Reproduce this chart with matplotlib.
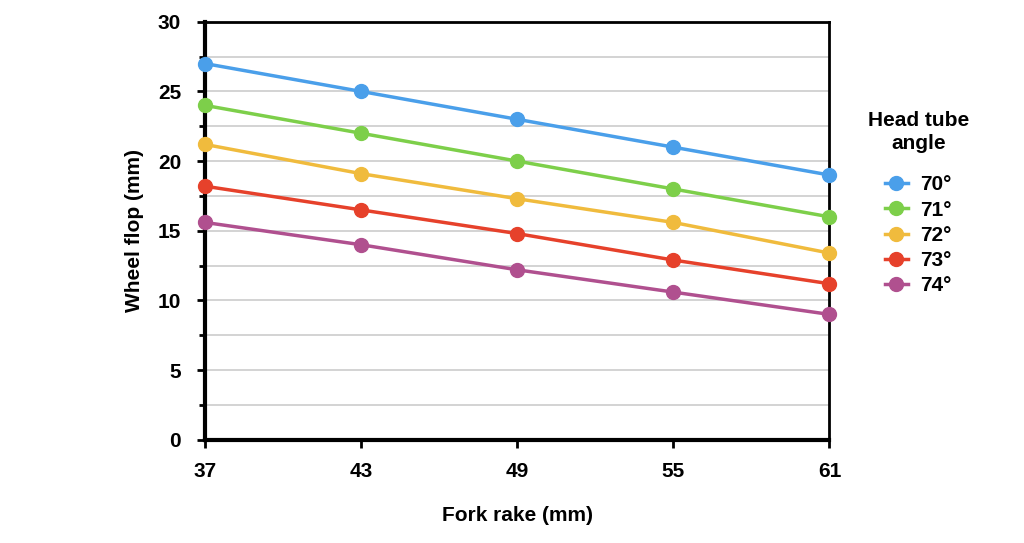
import matplotlib
matplotlib.use("Agg")
import matplotlib.pyplot as plt

plt.rcParams['font.family'] = ['Liberation Sans', 'DejaVu Sans']

rake = [37, 43, 49, 55, 61]
angles = ["70°", "71°", "72°", "73°", "74°"]
flop_70 = [27.0, 25.0, 23.0, 21.0, 19.0]
flop_71 = [24.0, 22.0, 20.0, 18.0, 16.0]
flop_72 = [21.2, 19.1, 17.3, 15.6, 13.4]
flop_73 = [18.2, 16.5, 14.8, 12.9, 11.2]
flop_74 = [15.6, 14.0, 12.2, 10.6, 9.0]
colors = ["#4a9fea", "#7dcf4a", "#f0bb3d", "#e6412b", "#b0508f"]

fig = plt.figure(figsize=(10.24, 5.43), dpi=100)
ax = fig.add_axes([0.2, 0.19, 0.61, 0.77])

for lab, ys, c in zip(angles, [flop_70, flop_71, flop_72, flop_73, flop_74], colors):
    ax.plot(rake, ys, color=c, lw=2.5, marker="o", ms=10, label=lab, zorder=3, clip_on=False)

ax.set_xlim(37, 61)
ax.set_ylim(0, 30)
ax.set_xticks(rake)
ax.set_yticks(range(0, 31, 5))
ax.set_yticks([2.5, 7.5, 12.5, 17.5, 22.5, 27.5], minor=True)
ax.grid(True, axis="y", which="both", color="#cccccc", lw=1.2)
ax.set_axisbelow(True)

for s in ax.spines.values():
    s.set_color("black")
    s.set_linewidth(2)
ax.spines["left"].set_linewidth(3)
ax.spines["bottom"].set_linewidth(3)

ax.tick_params(axis="both", which="major", length=6, width=2, labelsize=15)
ax.tick_params(axis="x", pad=10)
ax.tick_params(axis="y", pad=11)
ax.tick_params(axis="y", which="minor", length=4, width=2)
for t in ax.get_xticklabels() + ax.get_yticklabels():
    t.set_fontweight("bold")

ax.set_xlabel("Fork rake (mm)", fontsize=15, fontweight="bold", labelpad=18)
ax.set_ylabel("Wheel flop (mm)", fontsize=15, fontweight="bold", labelpad=10)

# legend title drawn on its own, entries below it
fig.text(0.897, 1 - 132 / 543, "Head tube\nangle", ha="center", va="center",
         fontsize=15, fontweight="bold", linespacing=1.3)
leg = ax.legend(loc="upper left", bbox_to_anchor=(0.854, 0.696), bbox_transform=fig.transFigure,
                frameon=False, prop={"size": 15, "weight": "bold"}, borderpad=0,
                handlelength=1.1, labelspacing=0.3, handletextpad=0.6)

fig.savefig("out.png", dpi=100)
